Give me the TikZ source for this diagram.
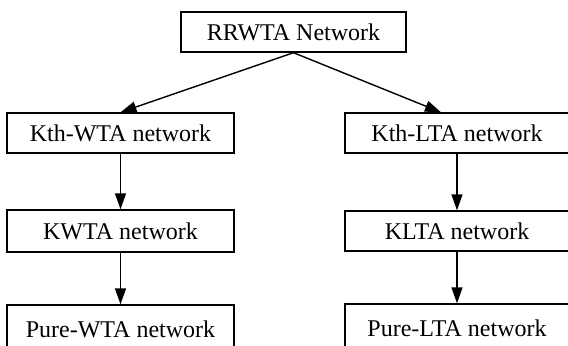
\documentclass[tikz,border=0pt]{standalone}
\usepackage{fontspec}
\setmainfont{Liberation Serif}
\usetikzlibrary{arrows.meta}

\begin{document}
\begin{tikzpicture}[x=0.5pt,y=0.5pt,
  netbox/.style={draw,line width=0.7pt,inner sep=0pt,minimum height=20pt,font=\fontsize{12}{14}\selectfont},
  netarrow/.style={-{Triangle[length=8pt,width=5.5pt]},line width=0.7pt}]
\clip (0,0) rectangle (568,345);
\node[netbox,minimum width=112.5pt] (rrwta) at (293.5,313) {RRWTA Network};
\node[netbox,minimum width=113.5pt] (kthwta) at (120.5,212) {Kth-WTA network};
\node[netbox,minimum width=113.5pt,minimum height=21pt] (kwta) at (120.5,114) {KWTA network};
\node[netbox,minimum width=113.5pt,minimum height=24pt] (purewta) at (120.5,16) {Pure-WTA network};
\node[netbox,minimum width=112pt] (kthlta) at (457,212) {Kth-LTA network};
\node[netbox,minimum width=112pt] (klta) at (457,114) {KLTA network};
\node[netbox,minimum width=112pt,minimum height=24pt] (purelta) at (457,17) {Pure-LTA network};
\draw[netarrow] (rrwta.south) -- (kthwta.north);
\draw[netarrow] (rrwta.south) -- ([xshift=-8pt]kthlta.north);
\draw[netarrow] (kthwta) -- (kwta);
\draw[netarrow] (kwta) -- (purewta);
\draw[netarrow] (kthlta) -- (klta);
\draw[netarrow] (klta) -- (purelta);
\end{tikzpicture}
\end{document}
